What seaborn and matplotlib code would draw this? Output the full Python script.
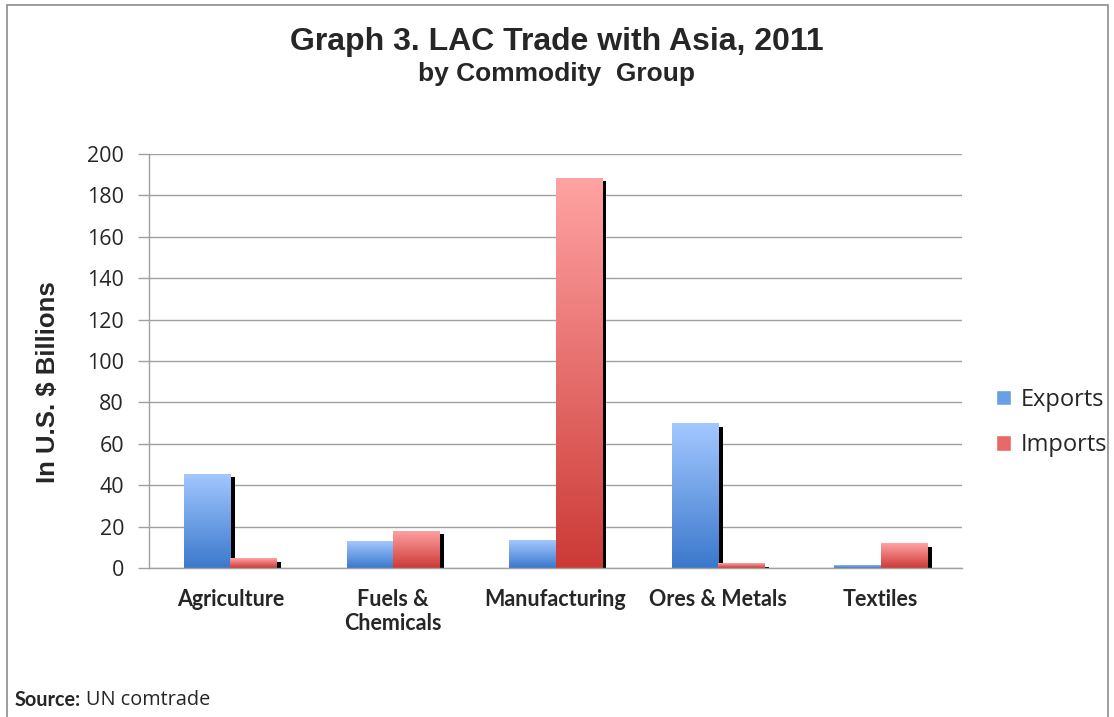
import numpy as np
import pandas as pd
import matplotlib
matplotlib.use("Agg")
import matplotlib.pyplot as plt
import matplotlib.patheffects as pe
from matplotlib.colors import LinearSegmentedColormap
from matplotlib.patches import Rectangle
import seaborn as sns

# Data (US$ billions)
categories = ["Agriculture", "Fuels &\nChemicals", "Manufacturing", "Ores & Metals", "Textiles"]
exports = [45.5, 13, 13.5, 70, 1.5]
imports = [4.8, 18, 188.5, 2.3, 12]
series = ["Exports", "Imports"]
yticks = list(range(0, 201, 20))

data = pd.DataFrame({
    "Commodity": categories * 2,
    "Value": exports + imports,
    "Flow": ["Exports"] * len(categories) + ["Imports"] * len(categories),
})

# gradient colours (top, bottom)
grad = {
    "Exports": ("#a3c8ff", "#3b78cc"),
    "Imports": ("#ffa3a3", "#cc3a36"),
}
palette = {"Exports": "#6a9ee6", "Imports": "#e86a68"}

sns.set_style("white")
plt.rcParams["font.family"] = ["Lato", "DejaVu Sans"]

fig = plt.figure(figsize=(11.14, 7.17), dpi=100)
ax = fig.add_axes([0.1338, 0.2078, 0.7298, 0.5774])

sns.barplot(data=data, x="Commodity", y="Value", hue="Flow", palette=palette,
            width=0.57, ax=ax, legend=False, saturation=1)

# gradients and drop shadows on each bar
n = len(categories)
for i, bar in enumerate(ax.patches):
    flow = series[i // n]
    bar.set_linewidth(0)
    bar.set_path_effects([pe.SimplePatchShadow(offset=(3.2, -2.6), shadow_rgbFace="black", alpha=1),
                          pe.Normal()])
    x0, y0 = bar.get_x(), bar.get_y()
    w, h = bar.get_width(), bar.get_height()
    cmap = LinearSegmentedColormap.from_list(flow, [grad[flow][1], grad[flow][0]])
    g = np.linspace(0, 1, 256).reshape(-1, 1)
    img = ax.imshow(g, cmap=cmap, aspect="auto", origin="lower",
                    extent=[x0, x0 + w, y0, y0 + h], zorder=bar.get_zorder() + 0.5)
    img.set_clip_path(bar)

ax.set_xlim(-0.5, n - 0.5)
ax.set_ylim(0, 200)
ax.set_yticks(yticks)
ax.set_yticklabels([str(t) for t in yticks], fontsize=15.5, family=["Open Sans", "DejaVu Sans"])
ax.grid(axis="y", color="#a0a0a0", linewidth=1)
ax.set_axisbelow(True)

ax.set_xticks(range(n))
ax.set_xticklabels(categories, fontsize=15.5, fontweight="bold", linespacing=1.2)
ax.set_xticks(np.arange(-0.5, n, 1.0), minor=True)
ax.tick_params(axis="x", which="major", length=0, pad=15)
ax.tick_params(axis="x", which="minor", length=5, color="#a0a0a0", width=1)
ax.tick_params(axis="y", length=8, color="#a0a0a0", width=1, pad=10, left=True)

for s in ["top", "right"]:
    ax.spines[s].set_visible(False)
for s in ["left", "bottom"]:
    ax.spines[s].set_color("#a0a0a0")
    ax.spines[s].set_linewidth(1)

ax.set_xlabel("")
ax.set_ylabel("In U.S. $ Billions", fontsize=18.5, fontweight="bold",
              family=["Liberation Sans", "DejaVu Sans"], va="center")
ax.yaxis.set_label_coords(-0.124, 0.449)

# legend
handles = [Rectangle((0, 0), 1, 1, facecolor=palette[s]) for s in series]
fig.legend(handles, series, loc="center left", bbox_to_anchor=(0.875, 0.411),
           frameon=False, handlelength=0.65, handleheight=0.65,
           handletextpad=0.4, labelspacing=0.9, prop={"family": ["Open Sans", "DejaVu Sans"], "size": 17})

# titles
fig.text(0.5, 0.941, "Graph 3. LAC Trade with Asia, 2011", ha="center", va="center",
         fontsize=23, fontweight="bold", family=["Liberation Sans", "DejaVu Sans"])
fig.text(0.5, 0.897, "by Commodity  Group", ha="center", va="center",
         fontsize=19, fontweight="bold", family=["Liberation Sans", "DejaVu Sans"])

# source note
src = fig.text(0.0135, 0.024, "Source:", ha="left", va="center", fontsize=14.3, fontweight="bold",
               family=["Lato", "DejaVu Sans"])
fig.canvas.draw()
bb = src.get_window_extent().transformed(fig.transFigure.inverted())
fig.text(bb.x1 + 0.004, 0.024, "UN comtrade", ha="left", va="center", fontsize=14.3,
         family=["Open Sans", "DejaVu Sans"])

# outer chart frame
fig.patches.append(Rectangle((0.0063, -0.05), 0.9883, 1.043, transform=fig.transFigure,
                             fill=False, edgecolor="#8c8c8c", linewidth=1.2))

fig.savefig("out.png", dpi=100)
